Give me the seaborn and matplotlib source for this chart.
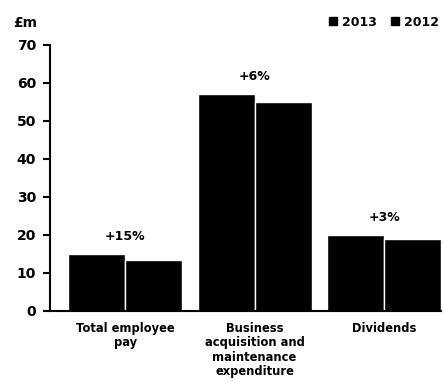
import matplotlib
matplotlib.use("Agg")
import matplotlib.pyplot as plt
import seaborn as sns
import pandas as pd
from matplotlib.lines import Line2D

categories = ["Total employee\npay", "Business\nacquisition and\nmaintenance\nexpenditure", "Dividends"]
values_2013 = [15, 57, 20]
values_2012 = [13.4, 55, 19]
changes = ["+15%", "+6%", "+3%"]
years = ["2013", "2012"]
yticks = [0, 10, 20, 30, 40, 50, 60, 70]

df = pd.DataFrame({
    "category": categories * 2,
    "year": [years[0]] * 3 + [years[1]] * 3,
    "value": values_2013 + values_2012,
})

sns.set_style("white")
plt.rcParams["font.family"] = ["DejaVu Sans"]
plt.rcParams["text.color"] = "black"
plt.rcParams["xtick.color"] = "black"
plt.rcParams["ytick.color"] = "black"

fig = plt.figure(figsize=(4.44, 3.82), dpi=100)
ax = fig.add_axes([50/444, 1-311/382, (441-50)/444, (311-45)/382])

sns.barplot(data=df, x="category", y="value", hue="year", hue_order=years,
            palette=["black", "black"], width=0.88, edgecolor="white",
            linewidth=1, ax=ax, legend=False, saturation=1)

ax.set_xlim(-0.58, 2.44)
ax.set_ylim(0, 70)
ax.set_yticks(yticks)
ax.set_yticklabels([str(t) for t in yticks], fontsize=10, fontweight="bold", color="black")
ax.tick_params(axis="y", which="major", length=5, width=1.5, direction="out", pad=5, left=True, colors="black")
ax.tick_params(axis="x", length=0, pad=8)
for lbl in ax.get_xticklabels():
    lbl.set_fontsize(8.3)
    lbl.set_fontweight("bold")
    lbl.set_color("black")
    lbl.set_linespacing(1.12)
ax.set_xlabel("")
ax.set_ylabel("")
for s in ["top", "right"]:
    ax.spines[s].set_visible(False)
ax.spines["left"].set_linewidth(1.5)
ax.spines["bottom"].set_linewidth(1.5)
ax.spines["left"].set_color("black")
ax.spines["bottom"].set_color("black")

for i, (ch, a, b) in enumerate(zip(changes, values_2013, values_2012)):
    ax.text(i, max(a, b) + 3, ch, ha="center", va="bottom", fontsize=9, fontweight="semibold", color="black")

fig.text(13/444, 1-23/382, "£m", fontsize=10, fontweight="bold", va="center", ha="left", color="black")

handles = [Line2D([], [], marker="s", color="black", linestyle="", markersize=6) for _ in years]
fig.legend(handles, years, loc="center right", bbox_to_anchor=(1.0, 1-22/382), ncol=2,
           frameon=False, prop={"size": 9, "weight": "bold"}, handletextpad=0.2,
           columnspacing=1.0, handlelength=1.0, borderaxespad=0.0)

fig.savefig("out.png", dpi=100)
